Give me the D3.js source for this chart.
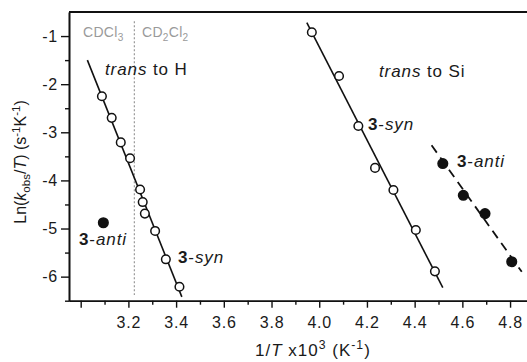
<!DOCTYPE html>
<html lang="en">
<head>
    <meta charset="UTF-8">
    <title>Eyring plot</title>
    <script src="https://cdn.jsdelivr.net/npm/d3@7/dist/d3.min.js"></script>
    <style>
        body { margin: 0; background: #fff; }
        text { font-family: "Liberation Sans", Arial, sans-serif; }
    </style>
</head>
<body>
<script>

    var width = 527;
    var height = 362;

    // 3-syn, trans to H (open circles)
    var synH_x = [3.089, 3.130, 3.168, 3.207, 3.249, 3.260, 3.269, 3.312, 3.357, 3.414];
    var synH_y = [-2.25, -2.70, -3.21, -3.54, -4.19, -4.45, -4.69, -5.05, -5.64, -6.21];
    // 3-anti, trans to H (filled)
    var antiH_x = [3.095];
    var antiH_y = [-4.88];
    // 3-syn, trans to Si
    var synSi_x = [3.969, 4.083, 4.164, 4.234, 4.311, 4.405, 4.485];
    var synSi_y = [-0.92, -1.83, -2.87, -3.74, -4.20, -5.03, -5.89];
    // 3-anti, trans to Si
    var antiSi_x = [4.518, 4.604, 4.695, 4.807];
    var antiSi_y = [-3.65, -4.31, -4.69, -5.69];

    // fitted lines (end points)
    var fitH = [[3.028, -1.50], [3.424, -6.42]];
    var fitSi = [[3.948, -0.72], [4.518, -6.23]];
    var fitAntiSi = [[4.471, -3.27], [4.849, -5.90]];

    var solventX = 3.225;   // CDCl3 / CD2Cl2 boundary
    var solventY = [-0.69, -6.38];

    var xMajor = [3.0, 3.2, 3.4, 3.6, 3.8, 4.0, 4.2, 4.4, 4.6, 4.8];
    var xMinor = [3.1, 3.3, 3.5, 3.7, 3.9, 4.1, 4.3, 4.5, 4.7];
    var yMajor = [-6, -5, -4, -3, -2, -1];
    var yMinor = [-6.5, -5.5, -4.5, -3.5, -2.5, -1.5];

    var svg = d3.select('body')
        .append('svg')
        .attr('width', width)
        .attr('height', height);

    var x = d3.scaleLinear()
        .domain([2.951, 4.871])
        .range([69, 527]);

    var y = d3.scaleLinear()
        .domain([-6.5, -0.5])
        .range([300.7, 12]);

    function zip(a, b) {
        return a.map(function (d, i) { return [d, b[i]]; });
    }

    // ---- axes
    var xAxis = d3.axisBottom(x)
        .tickValues(xMajor)
        .tickSize(7)
        .tickSizeOuter(0)
        .tickPadding(9)
        .tickFormat(function (d) { return d < 3.1 ? '' : d3.format('.1f')(d); });

    var xAxisMinor = d3.axisBottom(x)
        .tickValues(xMinor)
        .tickSize(4)
        .tickSizeOuter(0)
        .tickFormat('');

    var yAxis = d3.axisLeft(y)
        .tickValues(yMajor)
        .tickSize(8)
        .tickSizeOuter(0)
        .tickPadding(3)
        .tickFormat(function (d) { return String(d); });

    var yAxisMinor = d3.axisLeft(y)
        .tickValues(yMinor)
        .tickSize(4)
        .tickSizeOuter(0)
        .tickFormat('');

    var gx = svg.append('g')
        .attr('transform', 'translate(0,' + y.range()[0] + ')');
    gx.call(xAxis);
    gx.append('g').call(xAxisMinor);

    var gy = svg.append('g')
        .attr('transform', 'translate(' + x.range()[0] + ',0)');
    gy.call(yAxis);
    gy.append('g').call(yAxisMinor);

    svg.selectAll('.domain').attr('stroke', '#111').attr('stroke-width', 1.6);
    svg.selectAll('.tick line').attr('stroke', '#111').attr('stroke-width', 1.4);
    svg.selectAll('.tick text')
        .attr('font-size', 16)
        .attr('letter-spacing', 0.8)
        .attr('fill', '#1a1a1a')
        .attr('font-family', '"Liberation Sans", Arial, sans-serif');

    // top frame line
    svg.append('line')
        .attr('x1', x.range()[0]).attr('x2', width)
        .attr('y1', y.range()[1]).attr('y2', y.range()[1])
        .attr('stroke', '#111')
        .attr('stroke-width', 2);

    // ---- solvent boundary
    svg.append('line')
        .attr('x1', x(solventX)).attr('x2', x(solventX))
        .attr('y1', y(solventY[0])).attr('y2', y(solventY[1]))
        .attr('stroke', '#999')
        .attr('stroke-width', 1.2)
        .attr('stroke-dasharray', '2,2');

    // ---- fit lines
    var line = d3.line()
        .x(function (d) { return x(d[0]); })
        .y(function (d) { return y(d[1]); });

    svg.append('path').attr('d', line(fitH))
        .attr('fill', 'none').attr('stroke', '#111').attr('stroke-width', 1.6);
    svg.append('path').attr('d', line(fitSi))
        .attr('fill', 'none').attr('stroke', '#111').attr('stroke-width', 1.6);
    svg.append('path').attr('d', line(fitAntiSi))
        .attr('fill', 'none').attr('stroke', '#111').attr('stroke-width', 1.8)
        .attr('stroke-dasharray', '9,6');

    // ---- points
    function points(data, filled) {
        svg.append('g').selectAll('circle')
            .data(data)
            .enter()
            .append('circle')
            .attr('cx', function (d) { return x(d[0]); })
            .attr('cy', function (d) { return y(d[1]); })
            .attr('r', filled ? 4.8 : 4.3)
            .attr('fill', filled ? '#111' : '#fff')
            .attr('stroke', '#111')
            .attr('stroke-width', 1.5);
    }
    points(zip(synH_x, synH_y), false);
    points(zip(synSi_x, synSi_y), false);
    points(zip(antiH_x, antiH_y), true);
    points(zip(antiSi_x, antiSi_y), true);

    // ---- labels
    function label(px, py, size, parts, color, spacing) {
        var t = svg.append('text')
            .attr('x', px).attr('y', py)
            .attr('font-size', size)
            .attr('letter-spacing', spacing || 0)
            .attr('fill', color || '#1a1a1a');
        parts.forEach(function (p) {
            var s = t.append('tspan').text(p.t);
            if (p.i) s.attr('font-style', 'italic');
            if (p.b) s.attr('font-weight', 'bold');
            if (p.sub) s.attr('font-size', size * 0.72).attr('dy', size * 0.25);
            if (p.sup) s.attr('font-size', size * 0.72).attr('dy', -size * 0.4);
            if (p.back) s.attr('dy', p.back);
        });
        return t;
    }

    label(83, 37, 14, [{t: 'CDCl'}, {t: '3', sub: true}], '#9a9a9a', 0.3);
    label(142, 37, 14, [{t: 'CD'}, {t: '2', sub: true}, {t: 'Cl', back: -14 * 0.25}, {t: '2', sub: true}], '#9a9a9a', 0.3);

    label(105, 75, 17, [{t: 'trans', i: true}, {t: ' to H'}], null, 0.9);
    label(379, 77, 17, [{t: 'trans', i: true}, {t: ' to Si'}], null, 0.9);

    label(79, 245, 17, [{t: '3', b: true}, {t: '-'}, {t: 'anti', i: true}], null, 0.9);
    label(178, 263, 17, [{t: '3', b: true}, {t: '-'}, {t: 'syn', i: true}], null, 0.9);
    label(368, 130, 17, [{t: '3', b: true}, {t: '-'}, {t: 'syn', i: true}], null, 0.9);
    label(457, 167, 17, [{t: '3', b: true}, {t: '-'}, {t: 'anti', i: true}], null, 0.9);

    // ---- axis titles
    label(255, 356, 17, [{t: '1/'}, {t: 'T', i: true}, {t: ' x10'}, {t: '3', sup: true},
        {t: ' (K', back: 17 * 0.4}, {t: '-1', sup: true}, {t: ')', back: 17 * 0.4}], null, 1);

    label(0, 0, 16, [{t: 'Ln('}, {t: 'k', i: true}, {t: 'obs', sub: true},
        {t: '/', back: -16 * 0.25}, {t: 'T', i: true}, {t: ') (s'}, {t: '-1', sup: true},
        {t: 'K', back: 16 * 0.4}, {t: '-1', sup: true}, {t: ')', back: 16 * 0.4}])
        .attr('text-anchor', 'middle')
        .attr('transform', 'translate(26,162) rotate(-90)');

</script>
</body>
</html>
